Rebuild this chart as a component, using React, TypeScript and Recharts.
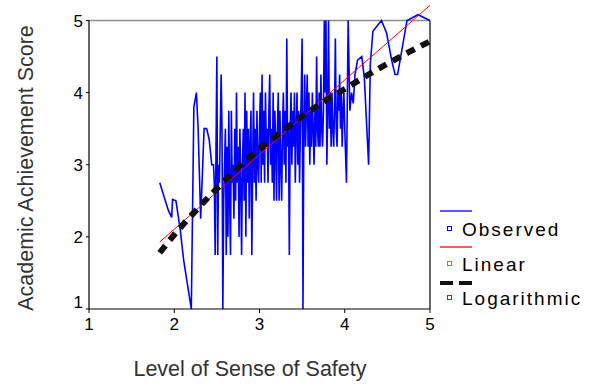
import { ComposedChart, Line, XAxis, YAxis, ReferenceLine } from "recharts";

const safetyLevels = [
  1.83, 1.93, 1.97, 1.98, 2.02, 2.07, 2.11, 2.2, 2.23, 2.26, 2.28, 2.31, 2.35, 2.38, 2.41, 2.44, 2.46,
  2.47, 2.48, 2.49, 2.5, 2.51, 2.52, 2.53, 2.54, 2.55, 2.56, 2.57, 2.58, 2.59, 2.6,
  2.61, 2.62, 2.63, 2.64, 2.65, 2.66, 2.67, 2.68, 2.69, 2.7,
  2.71, 2.72, 2.73, 2.74, 2.75, 2.76, 2.77, 2.78, 2.79, 2.8,
  2.81, 2.82, 2.83, 2.84, 2.85, 2.86, 2.87, 2.88, 2.89, 2.9,
  2.91, 2.92, 2.93, 2.94, 2.95, 2.96, 2.97, 2.98, 2.99, 3.0,
  3.01, 3.02, 3.03, 3.04, 3.05, 3.06, 3.07, 3.08, 3.09, 3.1,
  3.11, 3.12, 3.13, 3.14, 3.15, 3.16, 3.17, 3.18, 3.19, 3.2,
  3.21, 3.22, 3.23, 3.24, 3.25, 3.26, 3.27, 3.28, 3.29, 3.3,
  3.31, 3.32, 3.33, 3.34, 3.35, 3.36, 3.37, 3.38, 3.39, 3.4,
  3.41, 3.42, 3.43, 3.44, 3.45, 3.46, 3.47, 3.48, 3.49, 3.5,
  3.51, 3.52, 3.53, 3.54, 3.55, 3.56, 3.57, 3.58, 3.59, 3.6,
  3.61, 3.62, 3.63, 3.64, 3.65, 3.66, 3.67, 3.68, 3.69, 3.7,
  3.71, 3.72, 3.73, 3.74, 3.75, 3.76, 3.77, 3.78, 3.79, 3.8,
  3.81, 3.82, 3.83, 3.84, 3.85, 3.86, 3.87, 3.88, 3.89, 3.9,
  3.91, 3.92, 3.93, 3.94, 3.95, 3.96, 3.97, 3.98, 3.99, 4.0,
  4.02, 4.04, 4.06, 4.08, 4.1, 4.12, 4.15, 4.2, 4.23, 4.28, 4.3, 4.33,
  4.43, 4.49, 4.55, 4.59, 4.62, 4.73, 4.86, 5.0,
];

const observedScores = [
  2.75, 2.37, 2.27, 2.52, 2.5, 2.1, 1.68, 1.0, 3.8, 4.0, 3.5, 2.25, 3.5, 3.5, 3.35, 3.0, 3.0,
  2.75, 1.75, 3.25, 4.5, 1.75, 3.0, 2.75, 3.5, 4.25, 3.5, 1.0, 2.5, 3.0, 3.5,
  1.75, 3.25, 2.0, 3.75, 2.5, 1.75, 3.75, 2.75, 3.0, 2.25,
  3.5, 2.5, 4.0, 2.75, 3.25, 2.0, 3.5, 2.75, 1.75, 3.0,
  3.5, 2.5, 4.0, 2.0, 3.75, 2.75, 3.5, 2.25, 3.25, 3.75,
  1.75, 3.0, 4.0, 2.75, 3.5, 2.5, 3.75, 3.0, 2.75, 3.5,
  4.0, 2.75, 4.25, 3.0, 3.75, 2.75, 4.0, 3.25, 3.5, 2.75,
  3.75, 4.25, 3.0, 3.5, 2.75, 4.0, 2.5, 3.75, 3.25, 2.5,
  3.5, 4.0, 2.5, 3.75, 3.0, 2.5, 3.5, 4.0, 3.0, 3.75,
  2.75, 4.75, 3.25, 3.5, 1.75, 3.5, 4.0, 3.0, 3.75, 3.25,
  4.0, 2.75, 3.5, 4.0, 3.0, 3.75, 2.75, 3.5, 4.0, 4.75,
  1.0, 3.5, 4.25, 3.25, 3.75, 4.25, 3.25, 4.0, 3.0, 3.75,
  3.25, 4.0, 3.5, 3.0, 3.75, 3.25, 4.5, 3.5, 3.25, 4.0,
  3.25, 4.25, 3.5, 3.25, 3.75, 5.0, 4.0, 5.0, 3.0, 3.75,
  5.0, 3.5, 4.0, 3.25, 4.0, 3.5, 3.25, 3.75, 4.75, 3.5,
  3.25, 4.0, 3.75, 4.25, 3.5, 4.0, 3.25, 3.75, 4.0, 3.5,
  2.75, 5.0, 3.75, 4.0, 3.85, 4.25, 4.45, 4.5, 4.2, 3.0, 4.4, 4.85,
  5.0, 4.83, 4.45, 4.25, 4.25, 5.0, 5.08, 5.0,
];

const linearX = [1.83, 5.0];
const linearY = [1.93, 5.21];

const logX = [1.83, 2.0, 2.25, 2.5, 2.75, 3.0, 3.25, 3.5, 3.75, 4.0, 4.25, 4.5, 4.75, 5.0];
const logY = [1.78, 2.03, 2.36, 2.67, 2.96, 3.22, 3.45, 3.67, 3.87, 4.05, 4.23, 4.4, 4.56, 4.71];

const xTicks = [1, 2, 3, 4, 5];
const yTicks = [1, 2, 3, 4, 5];

const observedData = safetyLevels.map((x, i) => ({ x, y: observedScores[i] }));
const linearData = linearX.map((x, i) => ({ x, y: linearY[i] }));
const logData = logX.map((x, i) => ({ x, y: logY[i] }));

const FONT = "'Liberation Sans', Arial, sans-serif";

function YTick({ x, y, payload }: any) {
  // the "1" label sits a bit higher so it clears the x-axis "1"
  const shift = payload.value === 1 ? -7 : 0;
  return (
    <text x={x} y={y + shift} dy="0.36em" textAnchor="end" fontSize={17} fontFamily={FONT} fill="#000">
      {payload.value}
    </text>
  );
}

function LegendBox() {
  const text: React.CSSProperties = {
    position: "absolute",
    left: 462,
    fontSize: 19,
    letterSpacing: 2,
    fontFamily: FONT,
    color: "#000",
    lineHeight: "19px",
  };
  const sq = (top: number, color: string): React.CSSProperties => ({
    position: "absolute",
    left: 447,
    top,
    width: 3,
    height: 3,
    border: `1.5px solid ${color}`,
    background: "#fff",
  });
  return (
    <>
      <div style={{ position: "absolute", left: 440, top: 210, width: 32, height: 1.5, background: "#5a5aff" }} />
      <div style={sq(226, "#0000ff")} />
      <div style={{ ...text, top: 220 }}>Observed</div>
      <div style={{ position: "absolute", left: 440, top: 246, width: 32, height: 1.5, background: "#ff5a5a" }} />
      <div style={sq(261, "#00e000")} />
      <div style={{ ...text, top: 255 }}>Linear</div>
      <div style={{ position: "absolute", left: 440, top: 281, width: 13, height: 4, background: "#111" }} />
      <div style={{ position: "absolute", left: 459, top: 281, width: 13, height: 4, background: "#111" }} />
      <div style={sq(295, "#ff0000")} />
      <div style={{ ...text, top: 289 }}>Logarithmic</div>
    </>
  );
}

export default function App() {
  return (
    <div style={{ position: "absolute", left: 0, top: 0, width: 590, height: 384, background: "#fff" }}>
      <ComposedChart width={590} height={384} margin={{ top: 1, right: 160, bottom: 0, left: 0 }}>
        <XAxis
          type="number"
          dataKey="x"
          domain={[1, 5]}
          ticks={xTicks}
          height={75}
          tickSize={4}
          tickMargin={5}
          axisLine={{ stroke: "#000", strokeWidth: 1.2 }}
          tickLine={{ stroke: "#000" }}
          tick={{ fontSize: 17, fontFamily: FONT, fill: "#000" }}
          allowDuplicatedCategory={false}
          label={() => (
            <text x={250} y={376} textAnchor="middle" fontSize={21.5} fontFamily={FONT} fill="#333">
              Level of Sense of Safety
            </text>
          )}
        />
        <YAxis
          type="number"
          dataKey="y"
          domain={[1, 5.27]}
          ticks={yTicks}
          width={89}
          tickSize={3}
          tickMargin={3}
          axisLine={false}
          tickLine={{ stroke: "#000" }}
          tick={<YTick />}
          label={() => (
            <text
              x={33}
              y={168}
              transform="rotate(-90, 33, 168)"
              textAnchor="middle"
              fontSize={21.5}
              fontFamily={FONT}
              fill="#333"
            >
              Academic Achievement Score
            </text>
          )}
        />
        <ReferenceLine segment={[{ x: 1, y: 5 }, { x: 5, y: 5 }]} stroke="#8c8c8c" strokeWidth={1.5} />
        <ReferenceLine segment={[{ x: 1, y: 1 }, { x: 1, y: 5 }]} stroke="#000" strokeWidth={1.2} />
        <ReferenceLine segment={[{ x: 5, y: 1 }, { x: 5, y: 5 }]} stroke="#000" strokeWidth={1.2} />
        <Line
          data={observedData}
          dataKey="y"
          stroke="#0000ff"
          strokeWidth={1.6}
          dot={false}
          activeDot={false}
          isAnimationActive={false}
        />
        <Line
          data={linearData}
          dataKey="y"
          stroke="#ff0000"
          strokeWidth={1}
          dot={false}
          activeDot={false}
          isAnimationActive={false}
        />
        <Line
          data={logData}
          dataKey="y"
          type="monotone"
          stroke="#111"
          strokeWidth={6}
          strokeDasharray="9 7"
          dot={false}
          activeDot={false}
          isAnimationActive={false}
        />
      </ComposedChart>
      <LegendBox />
    </div>
  );
}
